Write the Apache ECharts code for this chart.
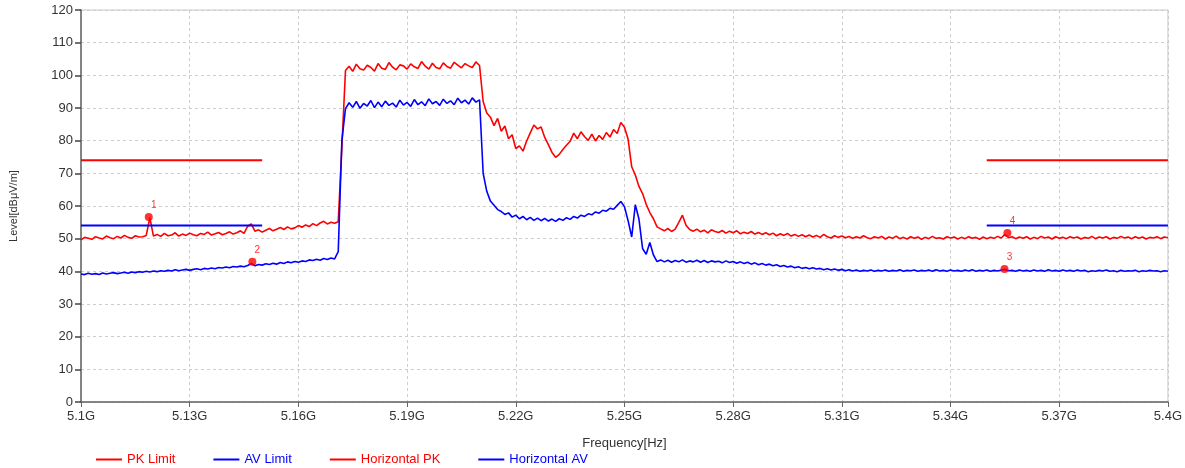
<!DOCTYPE html>
<html>
<head>
<meta charset="utf-8">
<script src="https://cdn.jsdelivr.net/npm/echarts@6.0.0/dist/echarts.min.js"></script>
<style>
  html, body { margin: 0; padding: 0; background: #fff; }
  #chart { width: 1185px; height: 468px; }
</style>
</head>
<body>
<div id="chart"></div>
<script>
  // frequency axis in MHz, one sample per MHz from 5100 to 5400
  const freqStart = 5100;
  const freqStep = 1;
  const xTicks = ['5.1G', '5.13G', '5.16G', '5.19G', '5.22G', '5.25G', '5.28G', '5.31G', '5.34G', '5.37G', '5.4G'];
  const yTicks = [0, 10, 20, 30, 40, 50, 60, 70, 80, 90, 100, 110, 120];

  const legendNames = ['PK Limit', 'AV Limit', 'Horizontal PK', 'Horizontal AV'];

  // limit lines (two bands, gap in the middle)
  const pkLimit = [[5100, 74], [5150, 74], [5150, '-'], [5350, 74], [5400, 74]];
  const avLimit = [[5100, 54], [5150, 54], [5150, '-'], [5350, 54], [5400, 54]];

  const pkLevel = [
    49.6, 50.4, 50.1, 49.8, 50.6, 50.2, 49.9, 50.8, 50.3, 50.0,
    50.7, 50.2, 51.0, 50.4, 50.1, 50.9, 50.5, 50.6, 51.0, 56.4,
    50.8, 51.3, 50.7, 51.6, 50.9, 51.1, 51.8, 50.8, 51.4, 51.0,
    51.7, 51.2, 50.9, 51.6, 51.3, 52.0, 51.1, 51.5, 51.9, 51.2,
    51.6, 52.1, 51.4, 51.8, 52.4, 51.6, 53.8, 54.5, 52.3, 52.7,
    52.0, 52.6, 53.1, 52.4, 52.9, 53.4, 52.8, 53.6, 53.0, 53.3,
    54.0, 53.5, 54.2, 53.7, 54.6, 54.0, 54.8, 55.3, 54.5, 55.0,
    54.7, 55.2, 78.0, 101.5, 102.8, 101.2, 103.4, 102.0, 101.6, 103.1,
    102.4, 101.3, 103.6, 102.2, 101.8, 103.9, 102.5, 101.7, 103.2, 102.9,
    101.9, 103.5, 102.6, 102.1, 104.2, 102.8, 101.9, 103.7, 102.4, 102.0,
    103.8, 102.7, 102.2, 104.0, 103.1, 102.3, 103.6, 102.9, 102.4, 104.1,
    103.0, 92.0, 88.5, 87.2, 84.6, 86.8, 82.9, 84.5, 80.6, 81.8,
    77.6, 78.4, 76.8, 79.9, 82.4, 84.8, 83.6, 84.2, 81.0, 78.8,
    76.4, 74.9, 75.8, 77.3, 78.6, 79.8, 82.3, 80.6, 82.7, 81.2,
    80.1, 82.0, 79.9, 81.6, 80.4, 82.5, 81.1, 83.4, 82.2, 85.6,
    84.1, 80.5, 72.0, 69.5, 66.0, 63.8, 60.5, 58.0, 56.1, 53.6,
    53.0, 52.4, 53.1, 52.2, 52.9, 55.0, 57.2, 54.1, 52.8, 52.3,
    52.9, 52.1, 52.6, 51.8, 52.7, 52.2, 51.9, 52.5, 51.7, 52.3,
    51.8, 52.4, 51.5, 52.0, 51.6, 52.2, 51.4, 51.9, 51.3, 51.8,
    51.2, 51.7, 50.9, 51.5, 51.0, 51.6, 50.8, 51.3, 50.7, 51.2,
    50.6, 51.1, 50.5, 51.0, 50.4, 51.3, 50.6, 50.2, 50.9, 50.4,
    50.8, 50.3, 50.7, 50.1, 50.6, 50.2, 50.9, 50.3, 50.0, 50.6,
    50.2, 50.7, 49.9, 50.5, 50.1, 50.8, 50.0, 50.4, 49.9, 50.6,
    50.1, 50.5, 49.8, 50.4, 50.0, 50.7, 50.1, 50.3, 49.9, 50.6,
    50.2, 50.5, 49.9, 50.4, 50.0, 50.6, 50.1, 50.4, 49.8, 50.5,
    50.0, 50.4, 50.1, 50.7, 50.2, 51.3, 50.3, 50.6, 50.0, 50.5,
    50.1, 50.6, 49.9, 50.4, 50.0, 50.7, 50.2, 50.5, 49.9, 50.6,
    50.1, 50.4, 50.0, 50.6, 50.2, 50.5, 49.9, 50.4, 50.1, 50.7,
    50.0, 50.5, 50.2, 50.6, 49.9, 50.4, 50.1, 50.7, 50.2, 50.5,
    50.0, 50.6, 50.1, 50.5, 49.9, 50.4, 50.2, 50.6, 50.0, 50.5,
    50.3,
  ];

  const avLevel = [
    39.2, 39.0, 39.4, 39.1, 39.3, 39.0, 39.5, 39.2, 39.4, 39.6,
    39.3, 39.5, 39.7, 39.4, 39.8, 39.6, 39.9, 39.7, 40.0, 39.8,
    40.1, 39.9, 40.2, 40.0, 40.3, 40.1, 40.5, 40.2, 40.4, 40.6,
    40.3, 40.6, 40.8, 40.5, 40.9, 40.7, 41.0, 40.8, 41.2, 41.0,
    41.3, 41.1, 41.5, 41.3, 41.6, 41.4, 41.8, 42.4, 41.7, 42.1,
    41.9, 42.3, 42.1, 42.5, 42.2, 42.7, 42.4, 42.9, 42.6, 43.0,
    42.8, 43.2, 43.0, 43.5, 43.3, 43.7, 43.4, 43.9, 43.6, 44.1,
    43.8, 46.0, 80.0, 89.8, 91.6, 90.2, 92.0, 89.9, 91.4, 90.6,
    92.3, 90.1, 91.8, 90.4, 92.1, 90.8, 91.5, 90.3, 92.4, 90.9,
    91.7, 90.5, 92.6, 91.0, 91.9, 90.7, 92.8, 91.3, 92.0, 90.8,
    92.7, 91.4, 92.2, 91.0, 93.0, 91.6, 92.4, 91.2, 93.1, 91.8,
    92.5, 70.0, 64.5, 61.5, 60.2, 58.9, 58.3, 57.4, 57.9, 56.6,
    57.2, 56.1, 56.8, 55.8, 56.5, 55.6, 56.3, 55.5, 56.2, 55.4,
    56.0, 55.3, 56.1, 55.6, 56.4, 55.9, 56.8, 56.3, 57.2, 56.8,
    57.6, 57.3, 58.2, 57.8, 58.7, 58.4, 59.3, 59.0, 60.2, 61.4,
    59.8, 55.5, 50.5, 60.4, 56.0, 47.0, 45.2, 48.8, 45.0, 43.0,
    43.5, 42.9, 43.4, 42.8, 43.3, 42.9, 43.5, 42.8, 43.2, 42.9,
    43.4, 42.8, 43.3, 42.7, 43.2, 42.9, 43.1, 42.6, 43.2, 42.7,
    43.0, 42.5, 42.9, 42.4, 42.8, 42.2, 42.6, 42.0, 42.4, 41.9,
    42.2, 41.7, 42.0, 41.5, 41.8, 41.3, 41.6, 41.1, 41.4, 40.9,
    41.2, 40.8, 41.1, 40.7, 40.9, 40.5, 40.8, 40.4, 40.7, 40.3,
    40.6, 40.2, 40.5, 40.1, 40.4, 40.0, 40.3, 40.1, 40.4, 40.0,
    40.3, 40.1, 40.4, 40.0, 40.3, 40.1, 40.5, 40.0, 40.3, 40.2,
    40.4, 40.0, 40.3, 40.1, 40.4, 40.0, 40.5, 40.1, 40.3, 40.0,
    40.4, 40.1, 40.3, 40.0, 40.4, 40.1, 40.5, 40.0, 40.3, 40.1,
    40.4, 40.0, 40.3, 40.1, 40.4, 40.6, 40.2, 40.3, 40.0, 40.4,
    40.1, 40.3, 40.0, 40.4, 40.1, 40.3, 40.0, 40.5, 40.1, 40.3,
    40.0, 40.4, 40.1, 40.3, 40.0, 40.4, 40.1, 40.3, 39.9, 40.2,
    40.0, 40.3, 40.1, 40.4, 40.0, 40.2, 39.9, 40.3, 40.0, 40.2,
    40.1, 40.3, 39.9, 40.2, 40.0, 40.3, 40.1, 40.2, 39.9, 40.2,
    40.0,
  ];

  // numbered markers
  const markerFreq = [5118.7, 5147.3, 5354.9, 5355.7];
  const markerLevel = [56.6, 42.9, 40.7, 51.7];
  const markerLabel = ['1', '2', '3', '4'];

  const RED = '#ff0000';
  const BLUE = '#0000ff';
  const FONT = 'Liberation Sans, Arial, sans-serif';

  const toPairs = (levels) => levels.map((v, i) => [freqStart + i * freqStep, v]);
  const markers = markerFreq.map((f, i) => ({ value: [f, markerLevel[i]], name: markerLabel[i] }));

  const chart = echarts.init(document.getElementById('chart'));
  chart.setOption({
    animation: false,
    backgroundColor: '#fff',
    grid: {
      left: 80,
      right: 17,
      top: 10,
      bottom: 66,
      show: true,
      borderColor: '#c8c8c8',
      borderWidth: 1,
    },
    legend: {
      left: 91,
      top: 448,
      icon: 'rect',
      itemWidth: 26,
      itemHeight: 2,
      itemGap: 38,
      textStyle: { fontFamily: FONT, fontSize: 13 },
      data: [
        { name: legendNames[0], textStyle: { color: RED } },
        { name: legendNames[1], textStyle: { color: BLUE } },
        { name: legendNames[2], textStyle: { color: RED } },
        { name: legendNames[3], textStyle: { color: BLUE } },
      ],
    },
    xAxis: {
      type: 'value',
      min: 5100,
      max: 5400,
      interval: 30,
      name: 'Frequency[Hz]',
      nameLocation: 'middle',
      nameGap: 35,
      nameTextStyle: { fontFamily: FONT, fontSize: 13, color: '#333' },
      axisLine: { lineStyle: { color: '#666', width: 1.5 } },
      axisTick: { show: true, length: 5, lineStyle: { color: '#666' } },
      axisLabel: {
        fontFamily: FONT,
        fontSize: 13,
        color: '#333',
        margin: 8,
        formatter: (v) => xTicks[Math.round((v - 5100) / 30)],
      },
      splitLine: { show: true, lineStyle: { color: '#cdcdcd', type: [3, 3] } },
    },
    yAxis: {
      type: 'value',
      min: yTicks[0],
      max: yTicks[yTicks.length - 1],
      interval: 10,
      name: 'Level[dBμV/m]',
      nameLocation: 'middle',
      nameRotate: 90,
      nameGap: 62,
      nameTextStyle: { fontFamily: FONT, fontSize: 11, color: '#333' },
      axisLine: { show: true, lineStyle: { color: '#666', width: 1.5 } },
      axisTick: { show: true, length: 6, lineStyle: { color: '#444', width: 1.5 } },
      axisLabel: { fontFamily: FONT, fontSize: 13, color: '#333', margin: 8 },
      splitLine: { show: true, lineStyle: { color: '#cdcdcd', type: [3, 3] } },
    },
    series: [
      {
        name: legendNames[0],
        type: 'line',
        data: pkLimit,
        showSymbol: false,
        color: RED,
        lineStyle: { color: RED, width: 2 },
        z: 4,
      },
      {
        name: legendNames[1],
        type: 'line',
        data: avLimit,
        showSymbol: false,
        color: BLUE,
        lineStyle: { color: BLUE, width: 2 },
        z: 4,
      },
      {
        name: legendNames[2],
        type: 'line',
        data: toPairs(pkLevel),
        showSymbol: false,
        color: RED,
        lineStyle: { color: RED, width: 1.6 },
        z: 3,
      },
      {
        name: legendNames[3],
        type: 'line',
        data: toPairs(avLevel),
        showSymbol: false,
        color: BLUE,
        lineStyle: { color: BLUE, width: 1.6 },
        z: 3,
      },
      {
        name: 'markers',
        type: 'scatter',
        data: markers,
        symbol: 'circle',
        symbolSize: 8,
        itemStyle: { color: RED },
        label: {
          show: true,
          position: 'top',
          distance: 3,
          offset: [5, 0],
          formatter: (p) => p.name,
          fontFamily: FONT,
          fontSize: 10,
          color: RED,
        },
        z: 5,
      },
    ],
  });
</script>
</body>
</html>
